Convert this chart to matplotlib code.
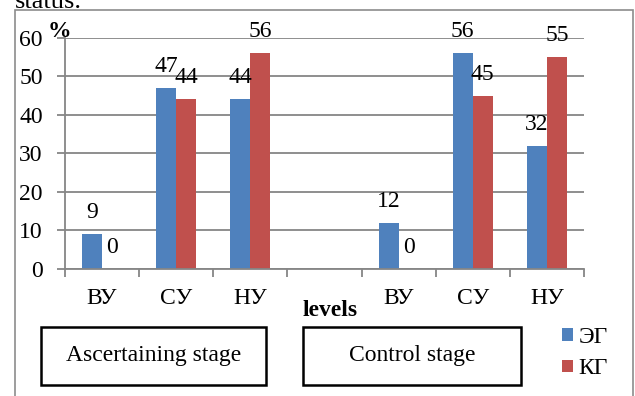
import numpy as np
import matplotlib
matplotlib.use("Agg")
import matplotlib.pyplot as plt
from matplotlib.patches import Rectangle

plt.rcParams["font.family"] = ["Liberation Serif", "DejaVu Serif"]

# data (4th slot is the empty gap between the two stages)
categories = ["ВУ", "СУ", "НУ", "", "ВУ", "СУ", "НУ"]
eg_values = [9, 47, 44, np.nan, 12, 56, 32]
kg_values = [0, 44, 56, np.nan, 0, 45, 55]
series_names = ["ЭГ", "КГ"]
stage_names = ["Ascertaining stage", "Control stage"]

BLUE = "#4F81BD"
RED = "#C0504D"
GRID = "#868686"
FS = 17

W, H = 635, 396
fig = plt.figure(figsize=(W / 100, H / 100), dpi=100)
ax = fig.add_axes([65 / W, 1 - 269 / H, (584 - 65) / W, (269 - 37.7) / H])

x = np.arange(len(categories))
bw = 0.27
b1 = ax.bar(x - bw / 2, eg_values, bw, color=BLUE, label=series_names[0])
b2 = ax.bar(x + bw / 2, kg_values, bw, color=RED, label=series_names[1])

for bars, vals in ((b1, eg_values), (b2, kg_values)):
    for rect, v in zip(bars, vals):
        if np.isnan(v):
            continue
        ax.annotate(f"{v:g}", (rect.get_x() + rect.get_width() / 2, v),
                    xytext=(0, 11.5), textcoords="offset points",
                    ha="center", va="baseline", fontsize=FS)

ax.set_xlim(-0.5, len(categories) - 0.5)
ax.set_ylim(0, 60)
ax.set_yticks(range(0, 61, 10))
ax.yaxis.grid(True, color=GRID, lw=1.3)
ax.set_axisbelow(True)

ax.set_xticks(np.arange(-0.5, len(categories), 1))
ax.set_xticklabels([])
ax.set_xticks(x, categories, minor=True)
ax.tick_params(axis="x", which="major", length=6, color=GRID, width=1.3)
ax.tick_params(axis="x", which="minor", length=0, pad=14, labelsize=FS)
ax.tick_params(axis="y", length=6, color=GRID, width=1.3, pad=10, labelsize=FS)

for s in ("top", "right"):
    ax.spines[s].set_visible(False)
for s in ("left", "bottom"):
    ax.spines[s].set_color(GRID)
    ax.spines[s].set_linewidth(1.3)

# axis titles
fig.text(48 / W, 1 - 37 / H, "%", fontsize=FS, fontweight="bold", va="baseline")
fig.text(330 / W, 1 - 310 / H, "levels", fontsize=FS, fontweight="bold",
         ha="center", va="center")

# stage boxes
for (x0, x1), name in zip(((41, 266), (303, 521)), stage_names):
    fig.patches.append(Rectangle((x0 / W, 1 - 385 / H), (x1 - x0) / W, 58 / H,
                                 transform=fig.transFigure, fill=False,
                                 edgecolor="black", lw=1.8))
    fig.text((x0 + x1) / 2 / W, 1 - 356 / H, name, fontsize=FS,
             ha="center", va="center")

# legend
fig.legend(handles=[b1, b2], labels=series_names, loc="center left",
           bbox_to_anchor=(541 / W, 1 - 353 / H), frameon=False, fontsize=FS,
           handlelength=0.45, handleheight=0.45, handletextpad=0.25,
           labelspacing=0.45)

# outer frame and cut-off text from the page above
fig.patches.append(Rectangle((15 / W, -0.02), (633 - 15) / W, 1.02 - 10 / H,
                             transform=fig.transFigure, fill=False,
                             edgecolor="#8c8c8c", lw=1.2))
fig.text(15 / W, 1 - 7.5 / H, "status.", fontsize=19, va="baseline")

fig.savefig("out.png", dpi=100)
